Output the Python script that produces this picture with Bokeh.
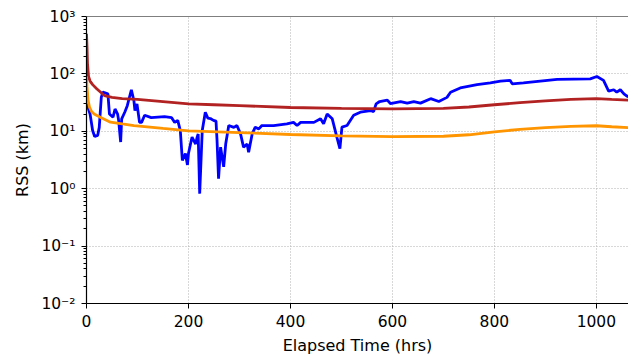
from bokeh.plotting import figure
from bokeh.models import (Range1d, FixedTicker, CustomJSTickFormatter, Span)
from bokeh.embed import file_html
from bokeh.resources import INLINE

# ---------------- data ----------------
blue_t = [0, 3, 7, 12, 16, 22, 25, 29, 32, 42,
          45, 52, 56, 61, 63, 67, 69, 75, 80, 88,
          93, 95, 99, 104, 108, 114, 127, 153, 167, 173,
          179, 184, 188, 194, 198, 200, 204, 207, 212, 214,
          217, 219, 222, 227, 233, 238, 243, 249, 254, 256,
          259, 263, 269, 273, 279, 289, 295, 302, 308, 315,
          318, 325, 331, 338, 344, 367, 393, 406, 413, 420,
          446, 459, 465, 472, 482, 491, 497, 501, 511, 524,
          537, 557, 563, 568, 575, 590, 596, 616, 629, 642,
          655, 675, 691, 707, 714, 733, 766, 792, 812, 831,
          835, 857, 923, 988, 1001, 1014, 1024, 1034, 1040, 1047,
          1054, 1060, 1063]
blue_v = [30, 26, 20, 10.3, 8.1, 8.5, 11.7, 39, 48, 45,
          20, 17.6, 24.5, 20, 15.5, 6.5, 16.5, 21.5, 28, 53,
          34, 23, 30, 14.3, 14.3, 19, 17.3, 18, 17.3, 14.3,
          15.5, 10.3, 3.1, 4.1, 2.6, 4.1, 6, 7.9, 6.5, 6,
          7.9, 9, 0.82, 10.3, 21.5, 17, 16.7, 15.5, 15, 7,
          1.5, 5.3, 2.4, 6, 12.6, 11.7, 12.6, 9.1, 5.3, 6,
          4.3, 9.1, 11.8, 11, 12.6, 12.6, 13.5, 14.3, 12.6, 14.3,
          14.3, 16.5, 13.5, 20, 16.5, 7.9, 5, 11.8, 12.6, 19,
          21.5, 23, 22, 30, 33, 35, 30.5, 33, 31, 33,
          31, 37, 33, 39, 48, 57, 65, 70, 75, 77,
          67, 70, 80, 82, 90, 77, 50, 53, 48, 53,
          45, 41, 40]

red_t = [0, 1, 2, 4, 7, 12, 20, 35, 50, 70, 100, 150, 200, 250, 300,
         400, 500, 600, 700, 750, 800, 850, 900, 950, 1000, 1030, 1063]
red_v = [500, 300, 150, 90, 75, 65, 55, 42, 39, 37, 36, 33, 30, 29, 28,
         26, 25, 24.5, 25, 26.5, 29, 31.5, 34, 36, 37, 36, 35]

orange_t = [0, 1, 3, 6, 10, 15, 27, 47, 93, 150, 200, 300, 400, 500, 600,
            700, 750, 800, 850, 900, 950, 1000, 1030, 1063]
orange_v = [90, 60, 35, 26, 22, 20, 17.6, 14.4, 12.6, 11.2, 10.2, 9.5, 8.8,
            8.3, 8.1, 8.2, 8.7, 9.8, 10.8, 11.6, 12.2, 12.5, 12, 11.6]

x_ticks = [0, 200, 400, 600, 800, 1000]
y_ticks = [0.01, 0.1, 1, 10, 100, 1000]
y_tick_labels = ["10\u207b\u00b2", "10\u207b\u00b9", "10\u2070",
                 "10\u00b9", "10\u00b2", "10\u00b3"]
x_label = "Elapsed Time (hrs)"
y_label = "RSS (km)"

# ---------------- figure ----------------
FONT = "DejaVu Sans"
p = figure(width=628, height=358, output_backend="svg", toolbar_location=None,
           y_axis_type="log",
           x_range=Range1d(0, 1063), y_range=Range1d(0.01, 1000),
           min_border_left=86, min_border_right=0, min_border_top=16,
           min_border_bottom=55)
p.outline_line_color = None
p.background_fill_color = "white"
p.border_fill_color = "white"

p.line(blue_t, blue_v, line_color="#0000ff", line_width=2.8)
p.line(red_t, red_v, line_color="#b22222", line_width=2.8)
p.line(orange_t, orange_v, line_color="#ff9500", line_width=2.8)

top = Span(location=1000, dimension="width", line_color="black", line_width=1.2)
p.add_layout(top)

minor = [m * 10.0 ** e for e in range(-2, 3) for m in range(2, 10)]
p.yaxis.ticker = FixedTicker(ticks=y_ticks, minor_ticks=minor)
p.yaxis.formatter = CustomJSTickFormatter(
    args=dict(yt=y_ticks, labs=y_tick_labels),
    code="""
    for (let i = 0; i < yt.length; i++) {
        if (Math.abs(Math.log10(yt[i]) - Math.log10(tick)) < 1e-6) return labs[i];
    }
    return "";
    """)
p.xaxis.ticker = FixedTicker(ticks=x_ticks)

for ax in (p.xaxis[0], p.yaxis[0]):
    ax.axis_line_color = "black"
    ax.axis_line_width = 1.2
    ax.major_tick_line_color = "black"
    ax.major_tick_out = 5
    ax.major_tick_in = 0
    ax.major_label_text_font = FONT
    ax.major_label_text_font_size = "15.5px"
    ax.major_label_text_color = "black"
    ax.major_label_standoff = 6
    ax.axis_label_text_font = FONT
    ax.axis_label_text_font_size = "16px"
    ax.axis_label_text_font_style = "normal"
    ax.axis_label_text_color = "black"
    ax.axis_label_standoff = 6

p.xaxis.minor_tick_line_color = None
p.xaxis.axis_label = x_label
p.yaxis.axis_label = y_label
p.yaxis.minor_tick_line_color = "black"
p.yaxis.minor_tick_line_width = 1
p.yaxis.minor_tick_out = 3
p.yaxis.minor_tick_in = 0

for g in (p.xgrid[0], p.ygrid[0]):
    g.grid_line_color = "#b0b0b0"
    g.grid_line_dash = "1 2"
    g.grid_line_width = 1
p.ygrid.minor_grid_line_color = None

open("out.html", "w").write(file_html(p, INLINE))
